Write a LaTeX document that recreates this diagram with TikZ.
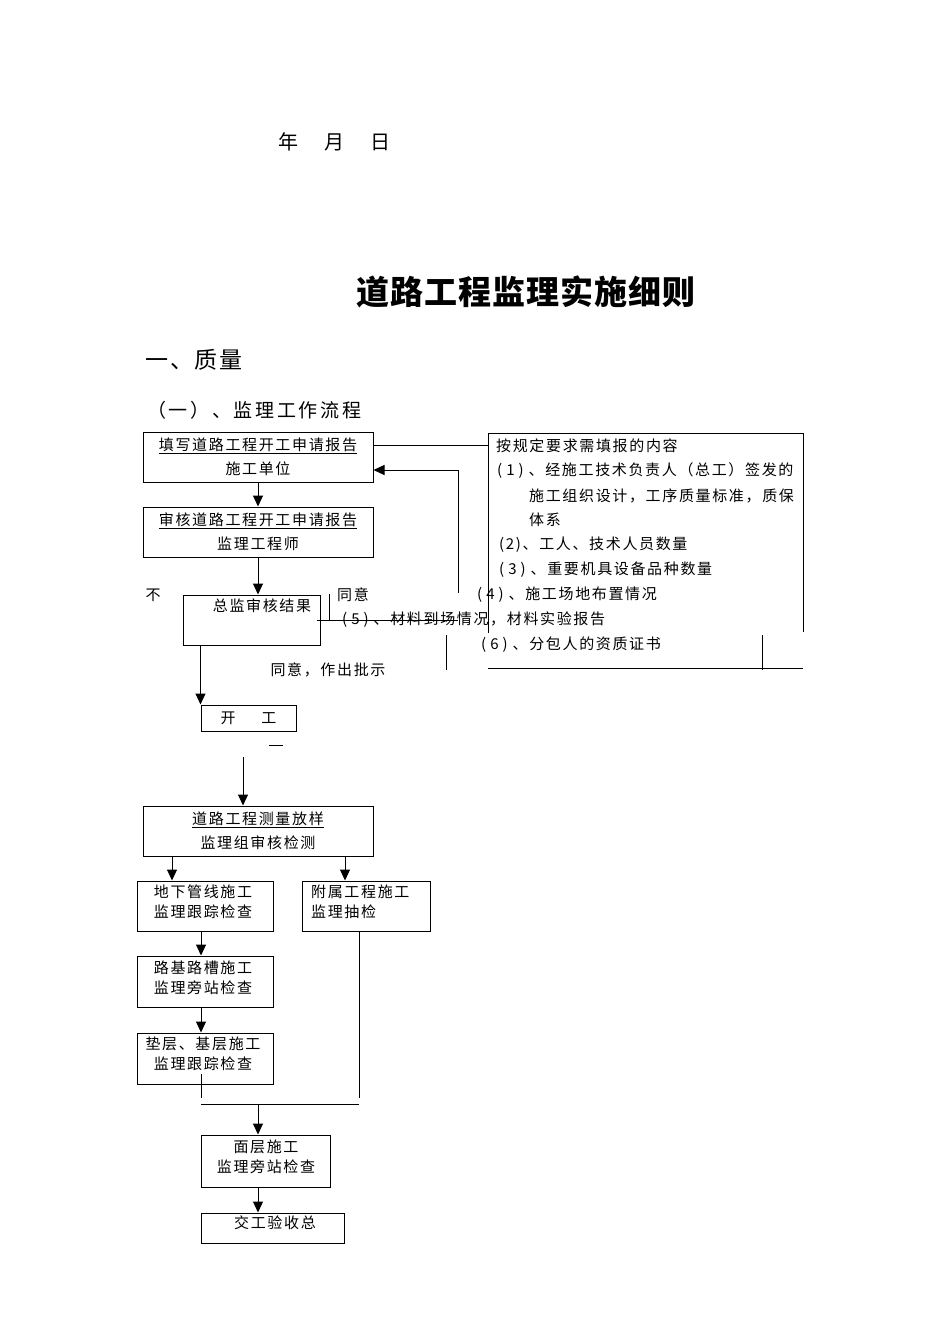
\documentclass[tikz,border=0pt]{standalone}
\usepackage{fontspec}
\usetikzlibrary{arrows.meta}
\newfontfamily\song{Noto Sans CJK SC}[LetterSpace=11]
\newfontfamily\songb{Noto Sans CJK SC}[LetterSpace=14]
\newfontfamily\songc{Noto Sans CJK SC}[LetterSpace=8]
\newfontfamily\hei{Noto Sans CJK SC}[LetterSpace=3]
\newcommand\pnum[1]{(\hspace{4pt}#1\hspace{4pt})\hspace{5pt}}
\begin{document}
\begin{tikzpicture}[x=1pt,y=-1pt,
  box/.style={draw,line width=1pt,rectangle,inner sep=0pt},
  txt/.style={font=\song\fontsize{15}{20}\selectfont,inner sep=0pt,align=center},
  ltxt/.style={font=\song\fontsize{15}{20}\selectfont,inner sep=0pt,anchor=west},
  ln/.style={line width=1pt},
  arr/.style={line width=1pt,-{Triangle[width=10pt,length=11pt]}}]
\useasboundingbox[fill=white] (0,0) rectangle (950,1344);

% header texts
\node[inner sep=0pt,font=\song\fontsize{20}{20}\selectfont] (date) at (334,142) {年\hspace{26pt}月\hspace{26pt}日};
\node[inner sep=0pt,font=\hei\bfseries\fontsize{33}{33}\selectfont] (title) at (526,292) {道路工程监理实施细则};
\node[inner sep=0pt,font=\songc\fontsize{23}{23}\selectfont,anchor=west] (sec1) at (145,360) {一、质量};
\node[inner sep=0pt,font=\songb\fontsize{19}{19}\selectfont,anchor=west] (sec2) at (147,410) {（一）、监理工作流程};

% boxes
\node[box,minimum width=230pt,minimum height=50pt,txt,font=\song\fontsize{15}{24}\selectfont] (b1) at (258,457) {\underline{填写道路工程开工申请报告}\\施工单位};
\node[box,minimum width=230pt,minimum height=50pt,txt,font=\song\fontsize{15}{24}\selectfont] (b2) at (258,532) {\underline{审核道路工程开工申请报告}\\监理工程师};
\node[box,minimum width=137pt,minimum height=50pt] (b3) at (251.5,620) {};
\node[txt] (t3) at (262,606) {总监审核结果};
\node[box,minimum width=95pt,minimum height=26pt,txt] (b4) at (248.5,718) {开\hspace{26pt}工};
\node[box,minimum width=230pt,minimum height=50pt,txt,font=\song\fontsize{15}{24}\selectfont] (b5) at (258,831) {\underline{道路工程测量放样}\\监理组审核检测};
\node[box,minimum width=136pt,minimum height=50pt] (b6) at (205,906) {};
\node[txt] (t6) at (203,902) {地下管线施工\\监理跟踪检查};
\node[box,minimum width=128pt,minimum height=50pt] (b7) at (366,906) {};
\node[txt,align=left,anchor=west] (t7) at (311,902) {附属工程施工\\监理抽检};
\node[box,minimum width=136pt,minimum height=51pt] (b8) at (205,981.5) {};
\node[txt] (t8) at (203,978) {路基路槽施工\\监理旁站检查};
\node[box,minimum width=136pt,minimum height=51pt] (b9) at (205,1058.5) {};
\node[txt] (t9) at (203,1054) {垫层、基层施工\\监理跟踪检查};
\node[box,minimum width=129pt,minimum height=52pt] (b10) at (265.5,1161) {};
\node[txt] (t10) at (266,1156.5) {面层施工\\监理旁站检查};
\node[box,minimum width=143pt,minimum height=30pt] (b11) at (272.5,1228) {};
\node[txt] (t11) at (275,1223) {交工验收总};

% right information box (open lines)
\draw[ln] (488,633) -- (488,433) -- (803,433) -- (803,632);
\draw[ln] (488,668) -- (803,668);
\draw[ln] (762,635) -- (762,670);
\node[ltxt] (r0) at (496,446) {按规定要求需填报的内容};
\node[ltxt] (r1) at (497,471) {\pnum{1}、经施工技术负责人（总工）签发的};
\node[ltxt] (r1b) at (529,496) {施工组织设计，工序质量标准，质保};
\node[ltxt] (r1c) at (529,520) {体系};
\node[ltxt] (r2) at (499,545) {(2)、工人、技术人员数量};
\node[ltxt] (r3) at (499,570) {\pnum{3}、重要机具设备品种数量};
\node[ltxt] (r4) at (477,595) {\pnum{4}、施工场地布置情况};
\node[ltxt] (r5) at (342,620) {\pnum{5}、材料到场情况，材料实验报告};
\node[ltxt] (r6) at (481,645) {\pnum{6}、分包人的资质证书};

% labels
\node[txt] (no) at (153,595) {不};
\node[txt] (agree) at (353,595) {同意};
\node[txt] (agree2) at (328,670) {同意，作出批示};

% coordinates
\coordinate (rb) at (488,445);
\coordinate (fb) at (458,593);
\coordinate (m5) at (458,620);
\coordinate (v1a) at (329,594);
\coordinate (v1b) at (329,620);
\coordinate (v2a) at (446,635);
\coordinate (v2b) at (446,670);
\coordinate (dsa) at (269,745);
\coordinate (dsb) at (283,745);
\coordinate (s5) at (243,757);
\coordinate (j9a) at (201,1074);
\coordinate (j9b) at (201,1098);
\coordinate (j7) at (359,1098);
\coordinate (ha) at (201,1104);
\coordinate (hb) at (359,1104);

% connectors
\draw[arr] (b1.south) -- (b2.north);
\draw[arr] (b2.south) -- (b2.south |- b3.north);
\draw[ln] ([yshift=12pt]b1.east) -- (rb);
\draw[arr] (fb) |- ([yshift=-13pt]b1.east);
\draw[ln] ([xshift=-4pt]b3.east) -- (m5);
\draw[ln] (v1a) -- (v1b);
\draw[ln] (v2a) -- (v2b);
\draw[arr] (b4.north west |- b3.south) -- (b4.north west);
\draw[ln] (dsa) -- (dsb);
\draw[arr] (s5) -- (s5 |- b5.north);
\draw[arr] ([xshift=-86pt]b5.south) -- ([xshift=-86pt]b5.south |- b6.north);
\draw[arr] ([xshift=87pt]b5.south) -- ([xshift=87pt]b5.south |- b7.north);
\draw[arr] ([xshift=-4pt]b6.south) -- ([xshift=-4pt]b8.north);
\draw[arr] ([xshift=-4pt]b8.south) -- ([xshift=-4pt]b9.north);
\draw[ln] (j9a) -- (j9b);
\draw[ln] ([xshift=-7pt]b7.south) -- (j7);
\draw[ln] (ha) -- (hb);
\draw[arr] ([xshift=-7.5pt]b10.north |- ha) -- ([xshift=-7.5pt]b10.north);
\draw[arr] ([xshift=-7.5pt]b10.south) -- ([xshift=-7.5pt]b10.south |- b11.north);
\end{tikzpicture}
\end{document}
